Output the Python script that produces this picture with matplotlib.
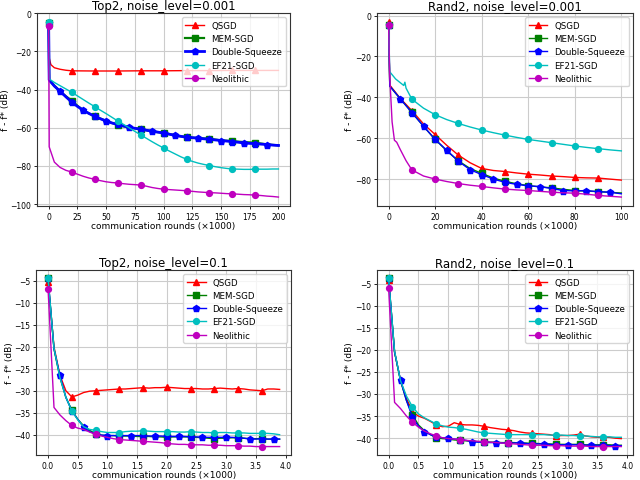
import numpy as np
import matplotlib
matplotlib.use("Agg")
import matplotlib.pyplot as plt

names = ["QSGD", "MEM-SGD", "Double-Squeeze", "EF21-SGD", "Neolithic"]
colors = ["r", "g", "b", "c", "m"]
markers = ["^", "s", "p", "o", "o"]

titles = ["Top2, noise_level=0.001", "Rand2, noise_level=0.001",
          "Top2, noise_level=0.1", "Rand2, noise_level=0.1"]
xlabel = "communication rounds (×1000)"
ylabel = "f - f* (dB)"

# ---------------- Top2, noise 0.001 ----------------
tl_x_q = [0, 0.5, 2, 5, 10, 15, 20, 40, 60, 80, 100, 120, 140, 160, 180, 200]
tl_y_q = [-5, -23.5, -27, -28.6, -29.4, -29.9, -30.2, -30.3, -30.3, -30.2, -30.2, -30.1, -30.1, -30.0, -30.0, -30.0]
tl_x = [0, 0.5, 5, 10, 15, 20, 25, 30, 35, 40, 45, 50, 55, 60, 65, 70, 75, 80, 85, 90, 95, 100,
        105, 110, 115, 120, 125, 130, 135, 140, 145, 150, 155, 160, 165, 170, 175, 180, 185, 190, 195, 200]
tl_y_mem = [-5, -35, -38, -41, -43.5, -45.8, -48.5, -50.8, -52.5, -53.9, -55.2, -56.4, -57.5, -58.4, -59.2, -59.9, -60.3, -60.6,
            -61.3, -62, -62.3, -62.6, -63.3, -64, -64.5, -64.9, -65.2, -65.4, -65.6, -65.8, -66.2, -66.6, -66.8, -67.0, -67.3, -67.5,
            -67.7, -67.9, -68.3, -68.7, -69, -69.2]
tl_y_ds = [-5, -35, -38.2, -40.9, -43.8, -46.5, -48.8, -50.8, -52.5, -54.0, -55.3, -56.5, -57.5, -58.3, -59.1, -59.7, -60.3, -60.8,
           -61.3, -61.8, -62.3, -62.8, -63.4, -64, -64.5, -65, -65.2, -65.5, -65.8, -66, -66.4, -66.7, -67, -67.3, -67.6, -68,
           -68.2, -68.3, -68.6, -68.8, -69.1, -69.3]
tl_y_ef = [-4.5, -34.5, -36.3, -38, -39.7, -41.4, -43.3, -45.2, -47.1, -48.9, -50.8, -52.6, -54.5, -56.4, -58.2, -60, -61.9, -63.7,
           -65.5, -67.3, -69, -70.6, -72.2, -73.7, -75.2, -76.5, -77.6, -78.5, -79.2, -79.8, -80.4, -80.9, -81.3, -81.6, -81.7, -81.8,
           -81.8, -81.7, -81.7, -81.7, -81.6, -81.6]
tl_y_neo = [-6.5, -70, -78, -80.8, -82.3, -83.2, -84.3, -85.4, -86.3, -87.0, -87.7, -88.3, -88.7, -88.9, -89.3, -89.6, -89.8, -90.0,
            -90.6, -91.3, -91.8, -92.2, -92.4, -92.6, -92.8, -93.0, -93.3, -93.6, -93.8, -94.0, -94.1, -94.3, -94.5, -94.6, -94.8, -95.0,
            -95.1, -95.3, -95.5, -95.8, -96.0, -96.3]

# ---------------- Rand2, noise 0.001 ----------------
tr_x = [0, 0.5, 5, 10, 15, 20, 25, 30, 35, 40, 45, 50, 55, 60, 65, 70, 75, 80, 85, 90, 95, 100]
tr_y_q = [-3, -34, -40.5, -46.5, -53, -58.2, -63.5, -68.3, -72, -74.8, -75.8, -76.3, -77, -77.6, -78, -78.5, -78.8, -79.2,
          -79.4, -79.5, -80, -80.5]
tr_y_mem = [-4.5, -34.5, -40.7, -47.3, -54.2, -60.6, -66.2, -71.1, -74.8, -77.2, -79.5, -81.1, -82.3, -83.2, -83.8, -84.3, -85,
            -85.6, -85.9, -86.1, -86.5, -86.8]
tr_y_ds = [-4.5, -34.5, -40.7, -47.5, -54.1, -60.6, -65.9, -71.3, -75.4, -77.8, -80, -81.6, -82.6, -83.3, -83.7, -84.6, -85.6,
           -85.8, -85.6, -86.2, -86.4, -87.2]
tr_x_ef = [0, 0.5, 3, 6.5, 7, 7.5, 10, 15, 20, 25, 30, 35, 40, 45, 50, 55, 60, 65, 70, 75, 80, 85, 90, 95, 100]
tr_y_ef = [-4.5, -27.5, -31, -34.2, -32.6, -35.5, -40.9, -45.3, -48.5, -50.9, -52.8, -54.5, -56, -57.3, -58.5, -59.6, -60.6,
           -61.4, -62.2, -63, -63.8, -64.5, -65.1, -65.7, -66.2]
tr_x_neo = [0, 0.5, 1.5, 2.5, 3.5, 5, 7.5, 10, 15, 20, 25, 30, 35, 40, 45, 50, 55, 60, 65, 70, 75, 80, 85, 90, 95, 100]
tr_y_neo = [-4.5, -30, -52, -61, -62, -65.5, -71, -75.5, -78.5, -80, -81.2, -82.2, -83, -83.6, -84.3, -84.9, -85.3, -85.6,
            -86, -86.4, -86.7, -86.9, -87.4, -88, -88.4, -88.8]

# ---------------- Top2, noise 0.1 ----------------
b_x = [round(0.1 * i, 1) for i in range(40)]
bl_y_q = [-5.2, -20, -26.5, -30, -31.4, -31, -30.4, -30.1, -30, -29.9, -29.8, -29.7, -29.6, -29.6, -29.5, -29.4, -29.3, -29.4,
          -29.3, -29.3, -29.2, -29.3, -29.4, -29.5, -29.5, -29.5, -29.6, -29.6, -29.5, -29.4, -29.5, -29.6, -29.5, -29.6, -29.8,
          -29.9, -30.0, -29.6, -29.6, -29.7]
bl_y_mem = [-4.4, -20.5, -27, -31.5, -34.4, -36.5, -38, -39, -39.8, -40.1, -40.2, -40.2, -40.3, -40.3, -40.3, -40.4, -40.4,
            -40.4, -40.5, -40.5, -40.6, -40.5, -40.5, -40.5, -40.5, -40.6, -40.7, -40.8, -40.9, -40.8, -40.8, -40.7, -40.7, -40.8,
            -40.9, -40.9, -40.9, -41, -41, -41]
bl_y_ds = [-4.4, -20.5, -26.5, -31.5, -34.6, -36.5, -38.3, -39.3, -39.8, -40.1, -40.2, -40.2, -40.2, -40.2, -40.2, -40.2,
           -40.2, -40.3, -40.3, -40.3, -40.4, -40.4, -40.4, -40.4, -40.5, -40.5, -40.6, -40.6, -40.6, -40.6, -40.6, -40.6, -40.7,
           -40.8, -41, -41, -40.9, -41, -41, -41]
bl_y_ef = [-4.4, -20.3, -27, -31.5, -34.6, -36.6, -38.2, -38.8, -39, -39.3, -39.5, -39.5, -39.5, -39.3, -39.2, -39.2, -39.1,
           -39.2, -39.3, -39.3, -39.3, -39.3, -39.4, -39.4, -39.3, -39.4, -39.5, -39.5, -39.6, -39.5, -39.5, -39.6, -39.6, -39.6,
           -39.7, -39.7, -39.7, -39.7, -39.8, -40]
bl_y_neo = [-6.8, -33.8, -35.5, -36.8, -37.9, -38.5, -38.8, -39.4, -39.9, -40.3, -40.6, -40.9, -41.1, -41.2, -41.3, -41.4,
            -41.5, -41.6, -41.7, -41.8, -42, -42.1, -42.2, -42.2, -42.3, -42.3, -42.3, -42.4, -42.4, -42.4, -42.5, -42.5, -42.5,
            -42.6, -42.6, -42.7, -42.7, -42.7, -42.7, -42.7]

# ---------------- Rand2, noise 0.1 ----------------
br_y_q = [-4.3, -20.5, -27, -31, -34, -35, -35.5, -36.2, -37, -37.4, -37.3, -36.5, -36.9, -37, -37, -37.1, -37.3, -37.6,
          -37.8, -38, -38.1, -38.3, -38.6, -38.8, -38.9, -39, -39.1, -39.2, -39.5, -39.4, -39.4, -39.3, -39.1, -39.5, -39.7,
          -39.8, -39.8, -39.8, -40, -40.1]
br_y_mem = [-3.8, -20.5, -27, -31.5, -34.7, -37, -38.3, -39.2, -39.9, -40.1, -40.2, -40.4, -40.5, -40.6, -40.7, -40.8, -40.8,
            -40.9, -40.9, -41, -41, -41, -41.1, -41.1, -41.2, -41.2, -41.3, -41.3, -41.4, -41.4, -41.4, -41.4, -41.4, -41.5,
            -41.5, -41.5, -41.5, -41.5, -41.6, -41.6]
br_y_ds = [-3.8, -20.5, -26.9, -31.5, -35.3, -37.3, -38.5, -39.2, -39.7, -39.9, -40, -40.2, -40.3, -40.5, -40.8, -40.9,
           -40.9, -41, -41, -41.1, -41.1, -41.1, -41, -41.2, -41.3, -41.3, -41.3, -41.4, -41.5, -41.5, -41.5, -41.5, -41.5,
           -41.6, -41.6, -41.6, -41.6, -41.7, -41.7, -41.7]
br_y_ef = [-3.8, -20.3, -27, -30.5, -32.9, -34.5, -35.4, -36.1, -36.8, -37.2, -37.5, -37.6, -37.8, -38, -38.3, -38.6, -38.8,
           -38.9, -39, -39.1, -39.2, -39.2, -39.2, -39.2, -39.2, -39.2, -39.2, -39.3, -39.3, -39.3, -39.4, -39.4, -39.5, -39.5,
           -39.6, -39.7, -39.7, -39.7, -39.8, -39.8]
br_y_neo = [-6, -31.9, -33.3, -35, -36.4, -37.5, -38.4, -39, -39.5, -39.9, -40.1, -40.2, -40.3, -40.5, -40.6, -40.7, -40.8,
            -40.9, -41, -41.1, -41.2, -41.3, -41.4, -41.5, -41.6, -41.6, -41.6, -41.7, -41.7, -41.7, -41.8, -41.8, -41.8,
            -41.8, -41.9, -41.9, -41.9, -41.9, -41.9, -41.9]

panels = [
    [(tl_x_q, tl_y_q, 20), (tl_x, tl_y_mem, 20), (tl_x, tl_y_ds, 10), (tl_x, tl_y_ef, 20), (tl_x, tl_y_neo, 20)],
    [(tr_x, tr_y_q, 10), (tr_x, tr_y_mem, 10), (tr_x, tr_y_ds, 5), (tr_x_ef, tr_y_ef, 10), (tr_x_neo, tr_y_neo, 10)],
    [(b_x, bl_y_q, 0.4), (b_x, bl_y_mem, 0.4), (b_x, bl_y_ds, 0.2), (b_x, bl_y_ef, 0.4), (b_x, bl_y_neo, 0.4)],
    [(b_x, br_y_q, 0.4), (b_x, br_y_mem, 0.4), (b_x, br_y_ds, 0.2), (b_x, br_y_ef, 0.4), (b_x, br_y_neo, 0.4)],
]
xticks = [np.arange(0, 201, 25), np.arange(0, 101, 20), np.arange(0, 4.01, 0.5), np.arange(0, 4.01, 0.5)]
yticks = [np.arange(-100, 1, 20), np.arange(-80, 1, 20), np.arange(-40, -4, 5), np.arange(-40, -4, 5)]
xfmt = ["{:.0f}", "{:.0f}", "{:.1f}", "{:.1f}"]

fig = plt.figure(figsize=(6.4, 4.81), dpi=100)
rects = [(0.058, 0.570, 0.395, 0.401), (0.589, 0.570, 0.400, 0.401),
         (0.057, 0.052, 0.398, 0.385), (0.589, 0.052, 0.400, 0.385)]

for k in range(4):
    ax = fig.add_axes(rects[k])
    for j in range(5):
        xs, ys, step = panels[k][j]
        xs = np.asarray(xs, float)
        r = np.abs(xs / step - np.round(xs / step))
        mk = [i for i in np.where(r < 1e-6)[0] if k >= 2 or i < len(xs) - 1]
        lw = 1.0
        if k == 0 and j in (1, 2):
            lw = 2.0 if j == 2 else 1.6
        ax.plot(xs, ys, color=colors[j], marker=markers[j], markevery=mk,
                markersize=4.2 if markers[j] != "p" else 4.6, lw=lw, label=names[j])
    ax.set_xticks(xticks[k])
    ax.set_xticklabels([xfmt[k].format(v) for v in xticks[k]])
    ax.set_yticks(yticks[k])
    ax.set_yticklabels([("\u2212" + str(abs(int(v)))) if v < 0 else str(int(v)) for v in yticks[k]])
    ax.tick_params(labelsize=5.5, length=2.5, width=0.6, pad=1.8)
    ax.grid(True, color="#cccccc", lw=0.8)
    ax.set_axisbelow(True)
    for s in ax.spines.values():
        s.set_color("#333333")
        s.set_linewidth(0.8)
    ax.set_title(titles[k], fontsize=8.5, pad=3)
    ax.set_xlabel(xlabel, fontsize=6.5, labelpad=0.3)
    ax.set_ylabel(ylabel, fontsize=6.5, labelpad=0.5)
    ax.legend(loc="upper right", fontsize=6.2, handlelength=2.2, borderpad=0.4, labelspacing=0.5)

fig.savefig("out.png", dpi=100)
